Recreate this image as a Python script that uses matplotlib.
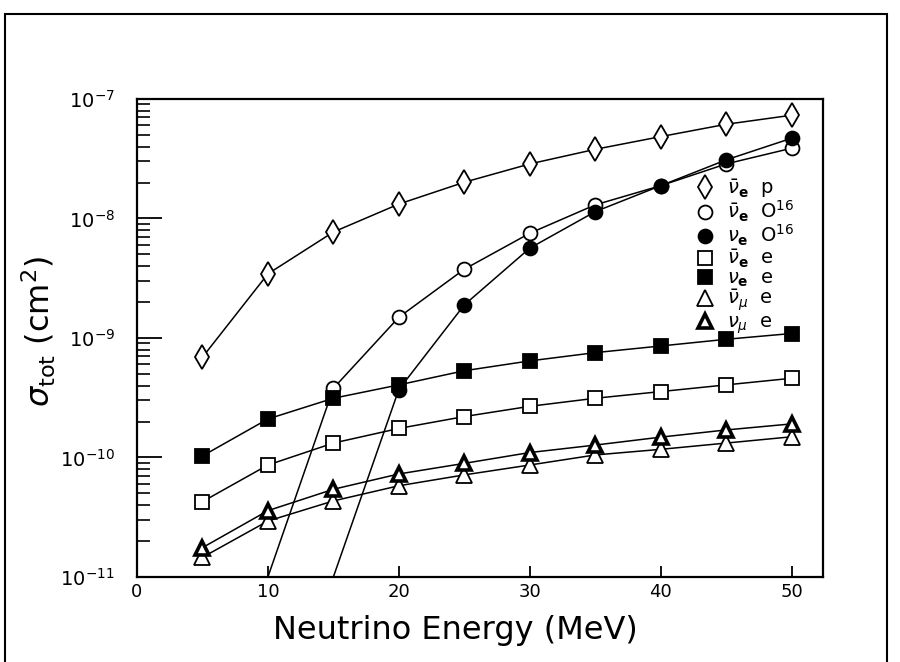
import matplotlib
matplotlib.use("Agg")
import matplotlib.pyplot as plt
from matplotlib.lines import Line2D
from matplotlib.patches import Rectangle
from matplotlib.ticker import LogLocator, NullFormatter

# neutrino energies (MeV)
energy = [5, 10, 15, 20, 25, 30, 35, 40, 45, 50]
energy_o16_bar = [10, 15, 20, 25, 30, 35, 40, 45, 50]   # first point = threshold
energy_o16 = [15, 20, 25, 30, 35, 40, 45, 50]           # first point = threshold

# total cross sections (cm^2)
nubar_e_p = [6.9e-10, 3.44e-9, 7.7e-9, 1.32e-8, 2.01e-8, 2.86e-8, 3.79e-8, 4.84e-8, 6.14e-8, 7.31e-8]
nubar_e_o16 = [1.0e-11, 3.79e-10, 1.49e-9, 3.76e-9, 7.52e-9, 1.30e-8, 1.88e-8, 2.86e-8, 3.87e-8]
nu_e_o16 = [1.0e-11, 3.7e-10, 1.89e-9, 5.64e-9, 1.14e-8, 1.88e-8, 3.09e-8, 4.69e-8]
nubar_e_e = [4.27e-11, 8.65e-11, 1.32e-10, 1.75e-10, 2.2e-10, 2.68e-10, 3.13e-10, 3.56e-10, 4.05e-10, 4.6e-10]
nu_e_e = [1.03e-10, 2.1e-10, 3.13e-10, 4.05e-10, 5.32e-10, 6.43e-10, 7.54e-10, 8.57e-10, 9.75e-10, 1.09e-9]
nubar_mu_e = [1.46e-11, 2.94e-11, 4.33e-11, 5.8e-11, 7.15e-11, 8.65e-11, 1.05e-10, 1.17e-10, 1.32e-10, 1.49e-10]
nu_mu_e = [1.76e-11, 3.59e-11, 5.42e-11, 7.28e-11, 8.93e-11, 1.10e-10, 1.27e-10, 1.48e-10, 1.70e-10, 1.91e-10]

y_ticks = [1e-11, 1e-10, 1e-9, 1e-8, 1e-7]
y_ticklabels = [r"$10^{-11}$", r"$10^{-10}$", r"$10^{-9}$", r"$10^{-8}$", r"$10^{-7}$"]

labels = [
    r"$\bar{\nu}_{\mathbf{e}}$  p",
    r"$\bar{\nu}_{\mathbf{e}}$  O$^{16}$",
    r"$\nu_{\mathbf{e}}$  O$^{16}$",
    r"$\bar{\nu}_{\mathbf{e}}$  e",
    r"$\nu_{\mathbf{e}}$  e",
    r"$\bar{\nu}_{\mu}$  e",
    r"$\nu_{\mu}$  e",
]

fig = plt.figure(figsize=(9, 6.62), dpi=100)
ax = fig.add_axes([0.1522, 0.1284, 0.7622, 0.7221])

line_kw = dict(color="black", lw=1.1, mec="black", mew=1.3)

styles = [
    dict(marker="d", ms=12, mfc="white"),
    dict(marker="o", ms=10, mfc="white"),
    dict(marker="o", ms=10, mfc="black"),
    dict(marker="s", ms=9.5, mfc="white"),
    dict(marker="s", ms=9.5, mfc="black"),
    dict(marker="^", ms=11, mfc="white"),
    dict(marker="^", ms=10, mfc="white", mew=2.6),
]

ax.plot(energy, nubar_e_p, **{**line_kw, **styles[0]})
ax.plot(energy_o16_bar, nubar_e_o16, markevery=slice(1, None), **{**line_kw, **styles[1]})
ax.plot(energy_o16, nu_e_o16, markevery=slice(1, None), **{**line_kw, **styles[2]})
ax.plot(energy, nubar_e_e, **{**line_kw, **styles[3]})
ax.plot(energy, nu_e_e, **{**line_kw, **styles[4]})
ax.plot(energy, nubar_mu_e, **{**line_kw, **styles[5]})
ax.plot(energy, nu_mu_e, **{**line_kw, **styles[6]})

ax.set_yscale("log")
ax.set_xlim(0, 52.4)
ax.set_ylim(1e-11, 1e-7)
ax.set_xticks([0, 10, 20, 30, 40, 50])
ax.set_yticks(y_ticks, y_ticklabels)
ax.yaxis.set_minor_locator(LogLocator(base=10, subs=range(2, 10), numticks=50))
ax.yaxis.set_minor_formatter(NullFormatter())

ax.tick_params(axis="x", which="major", direction="in", length=8, width=1.3,
               labelsize=13, pad=4, top=False)
ax.tick_params(axis="y", which="major", direction="in", length=18, width=1.3,
               labelsize=14, pad=16, right=False)
ax.tick_params(axis="y", which="minor", direction="in", length=9, width=1.2, right=False)
for sp in ax.spines.values():
    sp.set_linewidth(1.6)

ax.set_xlabel("Neutrino Energy (MeV)", fontsize=23)
ax.xaxis.set_label_coords(0.464, -0.08)
ax.set_ylabel(r"$\sigma_{\rm tot}$ (cm$^{2}$)", fontsize=23)
ax.yaxis.set_label_coords(-0.115, 0.513)

handles = [Line2D([], [], ls="none", **{"color": "black", "mec": "black", "mew": 1.3, **s})
           for s in styles]
ax.legend(handles, labels, loc="upper left", bbox_to_anchor=(0.8, 0.857),
          frameon=False, fontsize=14, handlelength=1.0, handletextpad=0.6,
          labelspacing=-0.05, borderpad=0.0)

# frame round the whole figure
fig.add_artist(Rectangle((5 / 900, -0.1), 882 / 900, 0.9789 + 0.1,
                         transform=fig.transFigure, fill=False, lw=1.5, color="black"))

fig.savefig("out.png", dpi=100)
